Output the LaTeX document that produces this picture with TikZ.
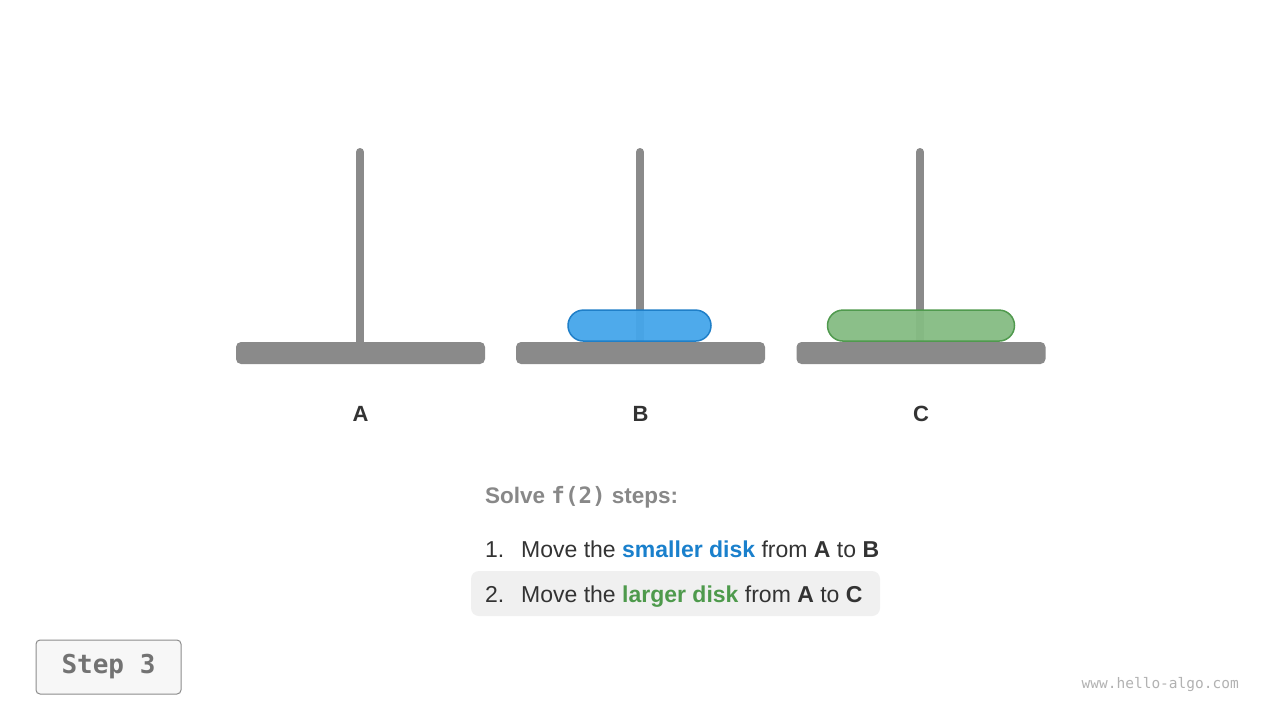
\documentclass[tikz,border=0pt]{standalone}
\usepackage{fontspec}
\setmainfont{Liberation Sans}
\setmonofont{DejaVu Sans Mono}
\usetikzlibrary{positioning, calc}
\usepackage{xcolor}
\definecolor{rodgray}{HTML}{8A8A8A}
\definecolor{textdark}{HTML}{333333}
\definecolor{textgray}{HTML}{888888}
\definecolor{diskblue}{HTML}{45A6EA}
\definecolor{edgeblue}{HTML}{1F7FC8}
\definecolor{diskgreen}{HTML}{85BC83}
\definecolor{edgegreen}{HTML}{509A4E}
\definecolor{textblue}{HTML}{1A80CC}
\definecolor{textgreen}{HTML}{4E9A4C}

\begin{document}
\begin{tikzpicture}[
    x=1pt, y=-1pt,
    base/.style={fill=rodgray, rounded corners=5pt, minimum width=249pt,
                 minimum height=22pt, inner sep=0pt},
    rod/.style={draw=rodgray, line width=8pt, line cap=round},
    disk/.style={rounded corners=15.5pt, minimum height=31pt, inner sep=0pt,
                 line width=1.5pt, fill opacity=0.95},
    peg/.style={inner sep=0pt, font=\fontsize{22}{26}\selectfont\bfseries, text=textdark},
    line/.style={anchor=base west, inner sep=0pt, font=\fontsize{23}{27}\selectfont, text=textdark},
]
    \useasboundingbox[fill=white] (0,0) rectangle (1280,720);

    % Bases
    \node[base] (baseA) at (360.5,353) {};
    \node[base] (baseB) at (640.5,353) {};
    \node[base] (baseC) at (921,353) {};

    % Rods
    \draw[rod] (360,152) -- (baseA.north -| 360,0);
    \draw[rod] (640,152) -- (baseB.north -| 640,0);
    \draw[rod] (920,152) -- (baseC.north -| 920,0);

    % Disks
    \node[disk, fill=diskblue, draw=edgeblue, minimum width=143pt, above=0pt of baseB, xshift=-1pt] (small) {};
    \node[disk, fill=diskgreen, draw=edgegreen, minimum width=187pt, above=0pt of baseC] (large) {};

    % Labels
    \node[peg, below=42pt of baseA] (labA) {A};
    \node[peg, below=42pt of baseB] (labB) {B};
    \node[peg, below=42pt of baseC] (labC) {C};

    % Steps
    \node[line, text=textgray, font=\fontsize{22.5}{26}\selectfont\bfseries] (title) at (485,503)
        {Solve \texttt{f(2)} steps:};
    \node[fill=black!6, rounded corners=8pt, minimum width=409pt, minimum height=45pt] (hl) at (675.5,593.5) {};
    \node[line] (num1) at (485,557) {1.};
    \node[line] (step1) at (521,557)
        {Move the \textbf{\color{textblue}smaller disk} from \textbf{A} to \textbf{B}};
    \node[line] (num2) at (485,602) {2.};
    \node[line] (step2) at (521,602)
        {Move the \textbf{\color{textgreen}larger disk} from \textbf{A} to \textbf{C}};

    % Step counter
    \node[draw=black!45, fill=black!3, rounded corners=4pt, line width=1pt,
          minimum width=145pt, minimum height=54pt, text=black!55,
          font=\fontsize{26}{30}\selectfont\ttfamily\bfseries] (stepbox) at (108.5,667) {Step 3};
    \node[anchor=east, inner sep=0pt, text=black!30,
          font=\fontsize{14.5}{17}\selectfont\ttfamily] (site) at (1239,685) {www.hello-algo.com};
\end{tikzpicture}
\end{document}
